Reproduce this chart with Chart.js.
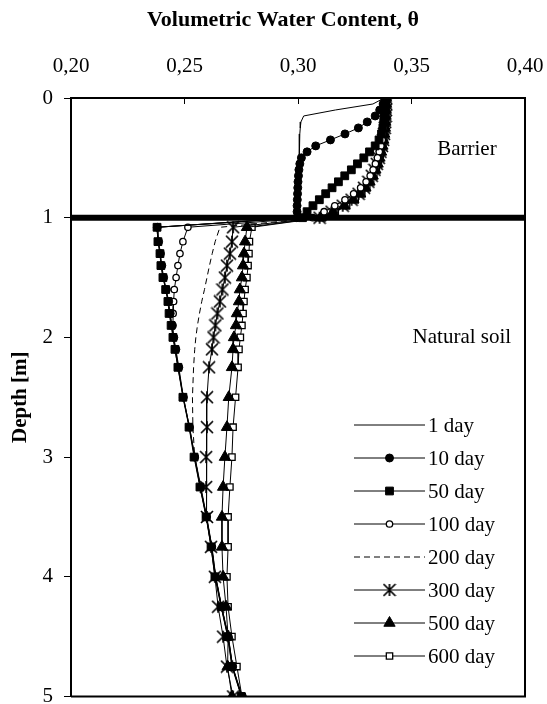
<!DOCTYPE html>
<html>
<head>
<meta charset="utf-8">
<script src="https://cdn.jsdelivr.net/npm/chart.js@4.4.1/dist/chart.umd.min.js"></script>
<style>
  html, body { margin: 0; padding: 0; background: #fff; }
  #wrap { width: 547px; height: 704px; position: relative; }
</style>
</head>
<body>
<div id="wrap"><canvas id="chart"></canvas></div>
<script>
// Hloubky profilu [m] - bariéra 0-1 m, pod ní přirozená zemina
const depth = [0, 0.05, 0.1, 0.15, 0.2, 0.25, 0.3, 0.35, 0.4, 0.45, 0.5, 0.55, 0.6, 0.65, 0.7, 0.75, 0.8, 0.85, 0.9, 0.95, 1.0,
    1.08, 1.2, 1.3, 1.4, 1.5, 1.6, 1.7, 1.8, 1.9, 2.0, 2.1, 2.25, 2.5, 2.75, 3.0, 3.25, 3.5, 3.75, 4.0, 4.25, 4.5, 4.75, 5.0];

const seriesNames = ['1 day', '10 day', '50 day', '100 day', '200 day', '300 day', '500 day', '600 day'];

const day1 = [0.3380, 0.3330, 0.3165, 0.3025, 0.3013, 0.3010, 0.3008, 0.3007, 0.3006, 0.3005, 0.3005, 0.3004, 0.3004, 0.3003, 0.3003, 0.3002, 0.3002, 0.3001, 0.3001, 0.3000, 0.3000,
    0.2378, 0.2384, 0.2392, 0.2398, 0.2406, 0.2418, 0.2428, 0.2435, 0.2443, 0.2451, 0.2460, 0.2473, 0.2494, 0.2521, 0.2544, 0.2569, 0.2596, 0.2618, 0.2636, 0.2662, 0.2691, 0.2710, 0.2752];
const day10 = [0.3383, 0.3375, 0.3360, 0.3340, 0.3305, 0.3266, 0.3207, 0.3143, 0.3078, 0.3040, 0.3015, 0.3008, 0.3004, 0.3002, 0.3000, 0.2999, 0.2998, 0.2997, 0.2996, 0.2996, 0.2995,
    0.2380, 0.2386, 0.2394, 0.2400, 0.2408, 0.2420, 0.2430, 0.2437, 0.2445, 0.2453, 0.2462, 0.2475, 0.2495, 0.2522, 0.2545, 0.2570, 0.2597, 0.2620, 0.2637, 0.2663, 0.2693, 0.2712, 0.2755];
const day50 = [0.3385, 0.3384, 0.3383, 0.3381, 0.3378, 0.3374, 0.3368, 0.3357, 0.3340, 0.3315, 0.3290, 0.3262, 0.3235, 0.3206, 0.3178, 0.3150, 0.3122, 0.3094, 0.3066, 0.3040, 0.3020,
    0.2379, 0.2383, 0.2392, 0.2396, 0.2405, 0.2417, 0.2427, 0.2432, 0.2441, 0.2449, 0.2458, 0.2471, 0.2493, 0.2520, 0.2542, 0.2568, 0.2595, 0.2617, 0.2634, 0.2661, 0.2690, 0.2709, 0.2750];
const day100 = [0.3386, 0.3386, 0.3385, 0.3384, 0.3382, 0.3380, 0.3376, 0.3371, 0.3365, 0.3358, 0.3350, 0.3341, 0.3331, 0.3318, 0.3300, 0.3276, 0.3245, 0.3207, 0.3162, 0.3115, 0.3065,
    0.2515, 0.2493, 0.2480, 0.2471, 0.2463, 0.2455, 0.2452, 0.2450, 0.2449, 0.2451, 0.2458, 0.2471, 0.2495, 0.2522, 0.2546, 0.2572, 0.2598, 0.2621, 0.2638, 0.2664, 0.2693, 0.2712, 0.2752];
const day200 = [0.3387, 0.3387, 0.3386, 0.3385, 0.3383, 0.3381, 0.3378, 0.3374, 0.3368, 0.3361, 0.3353, 0.3344, 0.3334, 0.3322, 0.3306, 0.3286, 0.3260, 0.3228, 0.3188, 0.3140, 0.3085,
    0.2656, 0.2635, 0.2622, 0.2610, 0.2599, 0.2588, 0.2576, 0.2566, 0.2557, 0.2550, 0.2545, 0.2540, 0.2535, 0.2537, 0.2545, 0.2570, 0.2597, 0.2620, 0.2637, 0.2663, 0.2692, 0.2711, 0.2752];
const day300 = [0.3388, 0.3388, 0.3387, 0.3386, 0.3384, 0.3382, 0.3379, 0.3375, 0.3370, 0.3363, 0.3356, 0.3347, 0.3337, 0.3325, 0.3310, 0.3291, 0.3267, 0.3236, 0.3197, 0.3148, 0.3095,
    0.2714, 0.2709, 0.2700, 0.2687, 0.2678, 0.2667, 0.2656, 0.2645, 0.2636, 0.2628, 0.2621, 0.2608, 0.2599, 0.2599, 0.2595, 0.2595, 0.2599, 0.2617, 0.2634, 0.2648, 0.2670, 0.2687, 0.2714];
const day500 = [0.3388, 0.3388, 0.3387, 0.3386, 0.3385, 0.3383, 0.3380, 0.3376, 0.3372, 0.3366, 0.3359, 0.3351, 0.3341, 0.3329, 0.3315, 0.3297, 0.3274, 0.3244, 0.3205, 0.3155, 0.3100,
    0.2775, 0.2767, 0.2762, 0.2758, 0.2753, 0.2744, 0.2740, 0.2731, 0.2727, 0.2718, 0.2714, 0.2709, 0.2695, 0.2687, 0.2678, 0.2670, 0.2665, 0.2665, 0.2670, 0.2683, 0.2692, 0.2690, 0.2709];
const day600 = [0.3389, 0.3389, 0.3388, 0.3387, 0.3386, 0.3384, 0.3382, 0.3378, 0.3374, 0.3368, 0.3362, 0.3354, 0.3345, 0.3334, 0.3320, 0.3303, 0.3281, 0.3252, 0.3214, 0.3164, 0.3105,
    0.2797, 0.2786, 0.2784, 0.2780, 0.2775, 0.2767, 0.2762, 0.2758, 0.2753, 0.2746, 0.2740, 0.2736, 0.2725, 0.2714, 0.2709, 0.2700, 0.2692, 0.2692, 0.2687, 0.2692, 0.2709, 0.2731, 0.2753];

const xTicks = [0.20, 0.25, 0.30, 0.35, 0.40];
const yTicks = [0, 1, 2, 3, 4, 5];
const barrierDepth = 1;
const xTitle = 'Volumetric Water Content, θ';

const FONT = "'Liberation Serif', 'Times New Roman', serif";

// X se svislou čarou jako v Excelu (značka pro 300 day)
function asteriskMarker(r) {
    const c = document.createElement('canvas');
    c.width = c.height = 2 * r + 2;
    const g = c.getContext('2d');
    g.strokeStyle = '#000';
    g.lineWidth = 1.7;
    g.beginPath();
    g.moveTo(1, 1); g.lineTo(2 * r + 1, 2 * r + 1);
    g.moveTo(2 * r + 1, 1); g.lineTo(1, 2 * r + 1);
    g.moveTo(r + 1, 1); g.lineTo(r + 1, 2 * r + 1);
    g.stroke();
    return c;
}

const toPoints = vals => vals.map((v, i) => ({ x: v, y: depth[i] }));

const styles = [
    { pointStyle: 'circle', pointRadius: 0 },
    { pointStyle: 'circle', pointRadius: 4, pointBackgroundColor: '#000' },
    { pointStyle: 'rect', pointRadius: 5.5, pointBackgroundColor: '#000' },
    { pointStyle: 'circle', pointRadius: 3.2, pointBackgroundColor: '#fff', pointBorderWidth: 1.3 },
    { pointStyle: 'circle', pointRadius: 0, borderDash: [6, 4] },
    { pointStyle: asteriskMarker(6), pointRadius: 6 },
    { pointStyle: 'triangle', pointRadius: 6.5, pointBackgroundColor: '#000' },
    { pointStyle: 'rect', pointRadius: 4.5, pointBackgroundColor: '#fff', pointBorderWidth: 1.3 }
];
const values = [day1, day10, day50, day100, day200, day300, day500, day600];

const datasets = values.map((vals, i) => Object.assign({
    label: seriesNames[i],
    data: toPoints(vals),
    borderColor: '#000',
    borderWidth: 1,
    pointBorderColor: '#000',
    pointBorderWidth: 1,
    pointBackgroundColor: '#000',
    tension: 0,
    fill: false
}, styles[i]));

// Rám, vnitřní značky osy x, čára rozhraní, nadpis osy x a popisky oblastí
const framePlugin = {
    id: 'frame',
    afterDatasetsDraw(chart) {
        const ctx = chart.ctx;
        const a = chart.chartArea;
        const xs = chart.scales.x, ys = chart.scales.y;
        ctx.save();
        ctx.strokeStyle = '#000';
        ctx.lineWidth = 6;
        const yb = ys.getPixelForValue(barrierDepth);
        ctx.beginPath(); ctx.moveTo(a.left, yb); ctx.lineTo(a.right, yb); ctx.stroke();

        ctx.lineWidth = 2;
        ctx.beginPath();
        ctx.moveTo(a.right, a.top); ctx.lineTo(a.right, a.bottom); ctx.lineTo(a.left, a.bottom);
        ctx.stroke();

        ctx.lineWidth = 1;
        xTicks.forEach(t => {
            const px = Math.round(xs.getPixelForValue(t)) + 0.5;
            ctx.beginPath(); ctx.moveTo(px, a.top); ctx.lineTo(px, a.top + 6); ctx.stroke();
        });

        ctx.fillStyle = '#000';
        ctx.textAlign = 'center';
        ctx.textBaseline = 'middle';
        ctx.font = 'bold 22px ' + FONT;
        ctx.fillText(xTitle, a.left + 212, 20);

        ctx.font = '21px ' + FONT;
        ctx.fillText('Barrier', xs.getPixelForValue(0.3744), ys.getPixelForValue(0.43));
        ctx.fillText('Natural soil', xs.getPixelForValue(0.3722), ys.getPixelForValue(2.0));
        ctx.restore();
    }
};

// Legenda uvnitř grafu: čára se značkou a text
const legendPlugin = {
    id: 'insideLegend',
    afterDraw(chart) {
        const ctx = chart.ctx;
        const a = chart.chartArea;
        chart.data.datasets.forEach((ds, i) => {
            const y = a.top + 327 + i * 33;
            const x0 = a.left + 283, x1 = a.left + 354;
            ctx.save();
            ctx.strokeStyle = '#000';
            ctx.lineWidth = 1;
            ctx.setLineDash(ds.borderDash || []);
            ctx.beginPath(); ctx.moveTo(x0, y); ctx.lineTo(x1, y); ctx.stroke();
            ctx.setLineDash([]);
            if (ds.pointRadius > 0) {
                ctx.fillStyle = ds.pointBackgroundColor;
                ctx.lineWidth = ds.pointBorderWidth;
                Chart.helpers.drawPoint(ctx, {
                    pointStyle: ds.pointStyle,
                    radius: ds.pointRadius,
                    borderWidth: ds.pointBorderWidth,
                    rotation: 0
                }, (x0 + x1) / 2, y);
            }
            ctx.fillStyle = '#000';
            ctx.font = '21px ' + FONT;
            ctx.textAlign = 'left';
            ctx.textBaseline = 'middle';
            ctx.fillText(ds.label, x1 + 3, y + 1);
            ctx.restore();
        });
    }
};

const ctx = document.getElementById('chart').getContext('2d');
new Chart(ctx, {
    type: 'line',
    data: { datasets: datasets },
    options: {
        responsive: true,
        maintainAspectRatio: false,
        animation: false,
        indexAxis: 'y',
        layout: { padding: { left: 0, right: 22, top: 0, bottom: 4 } },
        plugins: {
            legend: { display: false },
            tooltip: { enabled: false }
        },
        scales: {
            x: {
                type: 'linear',
                position: 'top',
                min: 0.2,
                max: 0.4,
                afterBuildTicks: s => { s.ticks = xTicks.map(v => ({ value: v })); },
                afterFit: s => { s.height = 98; s.paddingLeft = 0; s.paddingRight = 0; },
                ticks: {
                    color: '#000',
                    padding: 19,
                    font: { family: FONT, size: 21 },
                    callback: v => Number(v).toFixed(2).replace('.', ',')
                },
                grid: { drawOnChartArea: false, drawTicks: false },
                border: { color: '#000', width: 2 }
            },
            y: {
                type: 'linear',
                reverse: true,
                min: 0,
                max: 5,
                afterBuildTicks: s => { s.ticks = yTicks.map(v => ({ value: v })); },
                afterFit: s => { s.width = 71; s.paddingTop = 0; s.paddingBottom = 0; },
                ticks: {
                    color: '#000',
                    padding: 11,
                    font: { family: FONT, size: 21 }
                },
                grid: { drawOnChartArea: false, color: '#000', tickLength: 7, lineWidth: 1 },
                border: { color: '#000', width: 2 },
                title: {
                    display: true,
                    text: 'Depth [m]',
                    color: '#000',
                    font: { family: FONT, size: 21, weight: 'bold' },
                    padding: { top: 8, bottom: 0 }
                }
            }
        }
    },
    plugins: [framePlugin, legendPlugin]
});
</script>
</body>
</html>
